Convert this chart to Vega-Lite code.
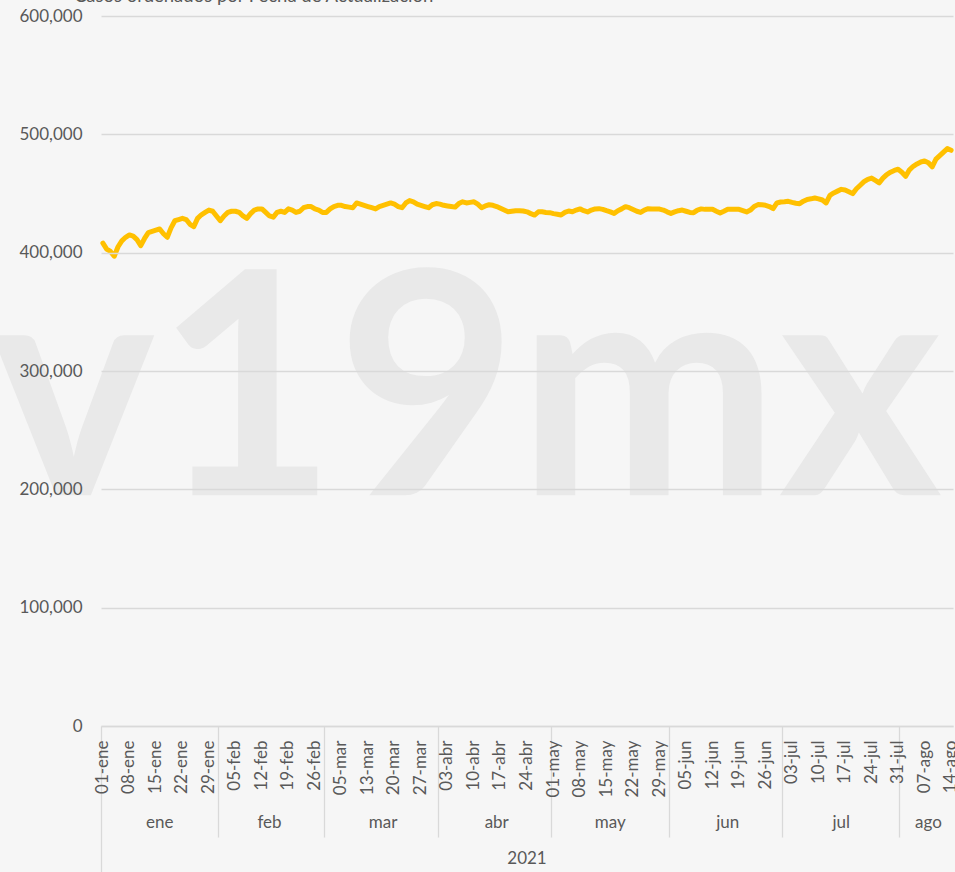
{
  "$schema": "https://vega.github.io/schema/vega-lite/v6.json",
  "width": 852,
  "height": 710,
  "autosize": "none",
  "padding": {"left": 101, "top": 16, "right": 2, "bottom": 146},
  "background": "#f6f6f6",
  "config": {"view": {"stroke": null}, "font": "Lato"},
  "title": {"text": "Casos ordenados por Fecha de Actualización", "anchor": "start", "dx": 83, "offset": 2, "fontSize": 18.5, "font": "Lato", "fontWeight": "normal", "color": "#595959"},
  "data": {"values": [
    {"fecha":"01-ene","casos":408000},{"fecha":"02-ene","casos":403000},{"fecha":"03-ene","casos":401000},{"fecha":"04-ene","casos":397000},{"fecha":"05-ene","casos":405000},{"fecha":"06-ene","casos":410000},{"fecha":"07-ene","casos":413000},{"fecha":"08-ene","casos":415000},{"fecha":"09-ene","casos":414000},{"fecha":"10-ene","casos":411000},{"fecha":"11-ene","casos":406000},{"fecha":"12-ene","casos":412000},{"fecha":"13-ene","casos":417000},{"fecha":"14-ene","casos":418000},{"fecha":"15-ene","casos":419000},{"fecha":"16-ene","casos":420000},{"fecha":"17-ene","casos":416000},{"fecha":"18-ene","casos":413000},{"fecha":"19-ene","casos":421000},{"fecha":"20-ene","casos":427000},{"fecha":"21-ene","casos":428000},{"fecha":"22-ene","casos":429000},{"fecha":"23-ene","casos":428000},{"fecha":"24-ene","casos":424000},{"fecha":"25-ene","casos":422000},{"fecha":"26-ene","casos":429000},{"fecha":"27-ene","casos":432000},{"fecha":"28-ene","casos":434000},{"fecha":"29-ene","casos":436000},{"fecha":"30-ene","casos":435000},{"fecha":"31-ene","casos":431000},
    {"fecha":"01-feb","casos":427000},{"fecha":"02-feb","casos":431000},{"fecha":"03-feb","casos":434000},{"fecha":"04-feb","casos":435000},{"fecha":"05-feb","casos":435000},{"fecha":"06-feb","casos":434000},{"fecha":"07-feb","casos":431000},{"fecha":"08-feb","casos":429000},{"fecha":"09-feb","casos":433000},{"fecha":"10-feb","casos":436000},{"fecha":"11-feb","casos":437000},{"fecha":"12-feb","casos":437000},{"fecha":"13-feb","casos":434000},{"fecha":"14-feb","casos":431000},{"fecha":"15-feb","casos":430000},{"fecha":"16-feb","casos":434000},{"fecha":"17-feb","casos":435000},{"fecha":"18-feb","casos":434000},{"fecha":"19-feb","casos":437000},{"fecha":"20-feb","casos":436000},{"fecha":"21-feb","casos":434000},{"fecha":"22-feb","casos":435000},{"fecha":"23-feb","casos":438000},{"fecha":"24-feb","casos":439000},{"fecha":"25-feb","casos":439000},{"fecha":"26-feb","casos":437000},{"fecha":"27-feb","casos":436000},{"fecha":"28-feb","casos":434000},
    {"fecha":"01-mar","casos":434000},{"fecha":"02-mar","casos":437000},{"fecha":"03-mar","casos":439000},{"fecha":"04-mar","casos":440000},{"fecha":"05-mar","casos":440000},{"fecha":"06-mar","casos":439000},{"fecha":"07-mar","casos":438500},{"fecha":"08-mar","casos":438000},{"fecha":"10-mar","casos":442000},{"fecha":"11-mar","casos":441000},{"fecha":"12-mar","casos":440000},{"fecha":"13-mar","casos":439000},{"fecha":"14-mar","casos":438000},{"fecha":"15-mar","casos":437000},{"fecha":"16-mar","casos":439000},{"fecha":"17-mar","casos":440000},{"fecha":"18-mar","casos":441000},{"fecha":"19-mar","casos":442000},{"fecha":"20-mar","casos":441000},{"fecha":"21-mar","casos":439000},{"fecha":"22-mar","casos":438000},{"fecha":"23-mar","casos":442000},{"fecha":"24-mar","casos":444000},{"fecha":"25-mar","casos":443000},{"fecha":"26-mar","casos":441000},{"fecha":"27-mar","casos":440000},{"fecha":"28-mar","casos":439000},{"fecha":"29-mar","casos":438000},{"fecha":"30-mar","casos":440500},{"fecha":"31-mar","casos":441500},
    {"fecha":"01-abr","casos":441000},{"fecha":"02-abr","casos":440000},{"fecha":"03-abr","casos":439500},{"fecha":"04-abr","casos":439000},{"fecha":"05-abr","casos":438500},{"fecha":"06-abr","casos":441500},{"fecha":"07-abr","casos":443000},{"fecha":"08-abr","casos":442000},{"fecha":"09-abr","casos":442500},{"fecha":"10-abr","casos":443000},{"fecha":"11-abr","casos":441000},{"fecha":"12-abr","casos":438000},{"fecha":"13-abr","casos":439500},{"fecha":"14-abr","casos":440500},{"fecha":"15-abr","casos":440000},{"fecha":"16-abr","casos":439000},{"fecha":"17-abr","casos":437500},{"fecha":"18-abr","casos":436000},{"fecha":"19-abr","casos":434500},{"fecha":"20-abr","casos":435000},{"fecha":"21-abr","casos":435500},{"fecha":"22-abr","casos":435500},{"fecha":"23-abr","casos":435200},{"fecha":"24-abr","casos":434500},{"fecha":"25-abr","casos":433000},{"fecha":"26-abr","casos":431800},{"fecha":"27-abr","casos":434500},{"fecha":"28-abr","casos":434500},{"fecha":"29-abr","casos":434000},{"fecha":"30-abr","casos":433800},
    {"fecha":"01-may","casos":433000},{"fecha":"02-may","casos":432500},{"fecha":"03-may","casos":431800},{"fecha":"04-may","casos":434000},{"fecha":"05-may","casos":435200},{"fecha":"06-may","casos":434600},{"fecha":"07-may","casos":436000},{"fecha":"08-may","casos":437000},{"fecha":"09-may","casos":435500},{"fecha":"10-may","casos":434400},{"fecha":"11-may","casos":436000},{"fecha":"12-may","casos":437000},{"fecha":"13-may","casos":437200},{"fecha":"14-may","casos":436600},{"fecha":"15-may","casos":435500},{"fecha":"16-may","casos":434500},{"fecha":"17-may","casos":433200},{"fecha":"18-may","casos":435500},{"fecha":"19-may","casos":437000},{"fecha":"20-may","casos":438900},{"fecha":"21-may","casos":438000},{"fecha":"22-may","casos":436500},{"fecha":"23-may","casos":435000},{"fecha":"24-may","casos":434000},{"fecha":"25-may","casos":436000},{"fecha":"26-may","casos":437200},{"fecha":"27-may","casos":437000},{"fecha":"28-may","casos":437000},{"fecha":"29-may","casos":436800},{"fecha":"30-may","casos":436000},{"fecha":"31-may","casos":434500},
    {"fecha":"01-jun","casos":433200},{"fecha":"02-jun","casos":434500},{"fecha":"03-jun","casos":435500},{"fecha":"04-jun","casos":436000},{"fecha":"05-jun","casos":435000},{"fecha":"06-jun","casos":434000},{"fecha":"07-jun","casos":433800},{"fecha":"08-jun","casos":436000},{"fecha":"09-jun","casos":437000},{"fecha":"10-jun","casos":436600},{"fecha":"11-jun","casos":436600},{"fecha":"12-jun","casos":436600},{"fecha":"13-jun","casos":435000},{"fecha":"14-jun","casos":433500},{"fecha":"15-jun","casos":435000},{"fecha":"16-jun","casos":436600},{"fecha":"17-jun","casos":436600},{"fecha":"18-jun","casos":436600},{"fecha":"19-jun","casos":436600},{"fecha":"20-jun","casos":435500},{"fecha":"21-jun","casos":434400},{"fecha":"22-jun","casos":436000},{"fecha":"23-jun","casos":439000},{"fecha":"24-jun","casos":440600},{"fecha":"25-jun","casos":440500},{"fecha":"26-jun","casos":440000},{"fecha":"27-jun","casos":439000},{"fecha":"28-jun","casos":437200},{"fecha":"29-jun","casos":442000},{"fecha":"30-jun","casos":442800},
    {"fecha":"01-jul","casos":443000},{"fecha":"02-jul","casos":443400},{"fecha":"03-jul","casos":442500},{"fecha":"04-jul","casos":441800},{"fecha":"05-jul","casos":441400},{"fecha":"06-jul","casos":443500},{"fecha":"07-jul","casos":445000},{"fecha":"08-jul","casos":445500},{"fecha":"09-jul","casos":446200},{"fecha":"10-jul","casos":445500},{"fecha":"11-jul","casos":444500},{"fecha":"12-jul","casos":442000},{"fecha":"13-jul","casos":448500},{"fecha":"14-jul","casos":450500},{"fecha":"15-jul","casos":452000},{"fecha":"16-jul","casos":453500},{"fecha":"17-jul","casos":453000},{"fecha":"18-jul","casos":451500},{"fecha":"19-jul","casos":449900},{"fecha":"20-jul","casos":454000},{"fecha":"21-jul","casos":457000},{"fecha":"22-jul","casos":460000},{"fecha":"23-jul","casos":462000},{"fecha":"24-jul","casos":463000},{"fecha":"25-jul","casos":461000},{"fecha":"26-jul","casos":459000},{"fecha":"27-jul","casos":463000},{"fecha":"28-jul","casos":466000},{"fecha":"29-jul","casos":468000},{"fecha":"30-jul","casos":469500},{"fecha":"31-jul","casos":470500},
    {"fecha":"01-ago","casos":468000},{"fecha":"02-ago","casos":464500},{"fecha":"03-ago","casos":470000},{"fecha":"04-ago","casos":473000},{"fecha":"05-ago","casos":475000},{"fecha":"06-ago","casos":476600},{"fecha":"07-ago","casos":477500},{"fecha":"08-ago","casos":476000},{"fecha":"09-ago","casos":472500},{"fecha":"10-ago","casos":479000},{"fecha":"11-ago","casos":482000},{"fecha":"12-ago","casos":485000},{"fecha":"13-ago","casos":487900},{"fecha":"14-ago","casos":486500}
  ]},
  "resolve": {"axis": {"x": "independent"}, "scale": {"x": "shared"}},
  "layer": [
    {
      "mark": {"type": "text", "font": "Lato", "fontWeight": "bold", "fontSize": 312, "color": "#e9e9e9", "align": "center", "baseline": "alphabetic"},
      "encoding": {
        "x": {"field": "fecha", "type": "ordinal", "sort": null, "scale": {"type": "band", "paddingInner": 0, "paddingOuter": 0}, "bandPosition": 0.5, "axis": null},
        "y": {"datum": 195000, "type": "quantitative", "scale": {"domain": [0, 600000], "nice": false}, "axis": {"values": [0,100000,200000,300000,400000,500000,600000], "format": ",.0f", "grid": true, "gridColor": "#d9d9d9", "gridWidth": 1.3, "domain": false, "ticks": false, "labelPadding": 19, "labelFont": "Lato", "labelFontSize": 17, "labelColor": "#595959", "title": null, "zindex": 1}},
        "text": {"condition": {"test": "datum.fecha === '08-abr'", "value": "v19mx"}, "value": ""}
      }
    },
    {
      "mark": {"type": "point", "opacity": 0},
      "encoding": {
        "x": {"field": "fecha", "type": "ordinal", "sort": null, "scale": {"type": "band", "paddingInner": 0, "paddingOuter": 0},
          "axis": {"orient": "bottom", "values": ["01-feb","01-mar","01-abr","01-may","01-jun","01-jul","01-ago"], "bandPosition": 0, "ticks": true, "tickSize": 111, "tickColor": "#d9d9d9", "tickWidth": 1.3, "labels": false, "domain": false, "grid": false, "title": null}}
      }
    },
    {
      "mark": {"type": "point", "opacity": 0},
      "encoding": {
        "x": {"field": "fecha", "type": "ordinal", "sort": null, "scale": {"type": "band", "paddingInner": 0, "paddingOuter": 0},
          "axis": {"orient": "bottom", "values": ["01-ene"], "bandPosition": 0, "ticks": true, "tickSize": 160, "tickColor": "#d9d9d9", "tickWidth": 1.3, "labels": false, "domain": false, "grid": false, "title": null}}
      }
    },
    {
      "mark": {"type": "point", "opacity": 0},
      "encoding": {
        "x": {"field": "fecha", "type": "ordinal", "sort": null, "scale": {"type": "band", "paddingInner": 0, "paddingOuter": 0},
          "axis": {"orient": "bottom", "values": ["16-ene","14-feb","17-mar","16-abr","16-may","16-jun","16-jul","08-ago"], "bandPosition": 0.5, "ticks": false, "tickSize": 0, "labelExpr": "split(datum.value, '-')[1]", "labelAngle": 0, "labelAlign": "center", "labelBaseline": "top", "labelPadding": 88, "labelFont": "Lato", "labelFontSize": 17, "labelColor": "#595959", "labelOverlap": false, "domain": false, "grid": false, "title": null}}
      }
    },
    {
      "mark": {"type": "point", "opacity": 0},
      "encoding": {
        "x": {"field": "fecha", "type": "ordinal", "sort": null, "scale": {"type": "band", "paddingInner": 0, "paddingOuter": 0},
          "axis": {"orient": "bottom", "values": ["24-abr"], "bandPosition": 0.5, "ticks": false, "tickSize": 0, "labelExpr": "'2021'", "labelAngle": 0, "labelAlign": "center", "labelBaseline": "top", "labelPadding": 124, "labelFont": "Lato", "labelFontSize": 17, "labelColor": "#595959", "domain": false, "grid": false, "title": null}}
      }
    },
    {
      "mark": {"type": "line", "color": "#FFC000", "strokeWidth": 5, "strokeJoin": "round", "strokeCap": "round"},
      "encoding": {
        "x": {"field": "fecha", "type": "ordinal", "sort": null, "scale": {"type": "band", "paddingInner": 0, "paddingOuter": 0}, "bandPosition": 0.5,
          "axis": {"orient": "bottom", "values": ["01-ene","08-ene","15-ene","22-ene","29-ene","05-feb","12-feb","19-feb","26-feb","05-mar","13-mar","20-mar","27-mar","03-abr","10-abr","17-abr","24-abr","01-may","08-may","15-may","22-may","29-may","05-jun","12-jun","19-jun","26-jun","03-jul","10-jul","17-jul","24-jul","31-jul","07-ago","14-ago"], "bandPosition": 0.5, "ticks": false, "tickSize": 0, "labelAngle": 270, "labelAlign": "right", "labelBaseline": "middle", "labelPadding": 14, "labelFont": "Lato", "labelFontSize": 17, "labelColor": "#595959", "labelOverlap": false, "labelBound": false, "labelFlush": false, "domain": true, "domainColor": "#d9d9d9", "domainWidth": 1.3, "grid": false, "title": null}},
        "y": {"field": "casos", "type": "quantitative", "scale": {"domain": [0, 600000], "nice": false}, "axis": {"values": [0,100000,200000,300000,400000,500000,600000], "format": ",.0f", "grid": true, "gridColor": "#d9d9d9", "gridWidth": 1.3, "domain": false, "ticks": false, "labelPadding": 19, "labelFont": "Lato", "labelFontSize": 17, "labelColor": "#595959", "title": null, "zindex": 1}}
      }
    }
  ]
}
